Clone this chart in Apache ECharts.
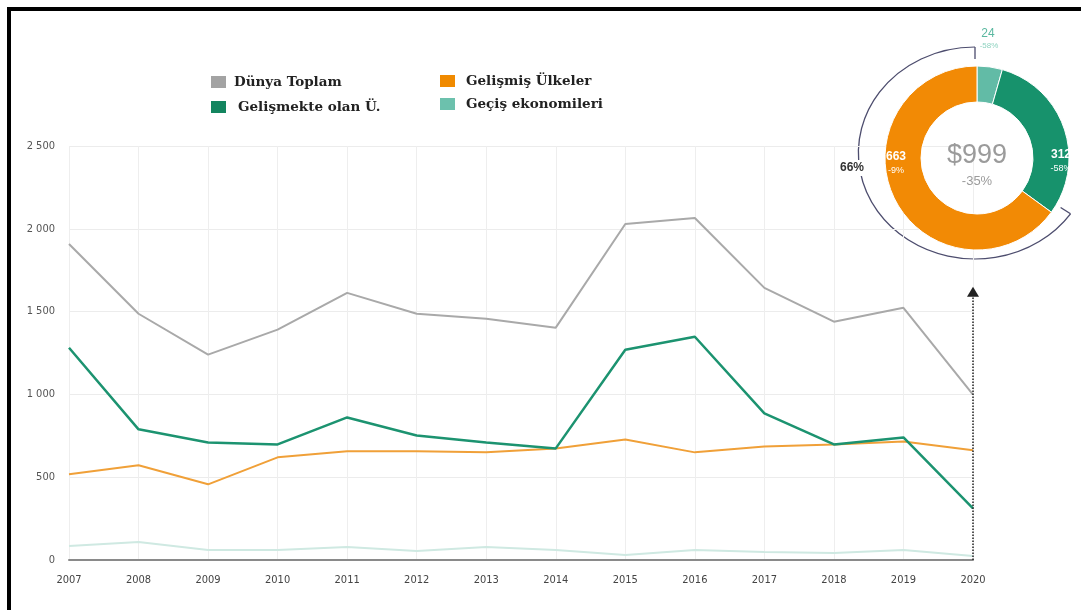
<!DOCTYPE html>
<html>
<head>
<meta charset="utf-8">
<script src="https://cdn.jsdelivr.net/npm/echarts@6/dist/echarts.min.js"></script>
<style>html,body{margin:0;padding:0;background:#fff}#c{width:1081px;height:610px}</style>
</head>
<body>
<div id="c"></div>
<script>
const years = ['2007','2008','2009','2010','2011','2012','2013','2014','2015','2016','2017','2018','2019','2020'];
const dunyaToplam = [1908,1487,1240,1391,1613,1487,1457,1403,2029,2065,1643,1439,1523,999];
const gelismekte = [1282,789,710,698,861,752,710,674,1270,1348,885,698,740,312];
const gelismis = [518,572,457,620,656,656,650,674,728,650,686,698,716,663];
const gecis = [84,108,60,60,78,54,78,60,30,60,48,42,60,24];
const seriesNames = ['Dünya Toplam','Gelişmekte olan Ü.','Gelişmiş Ülkeler','Geçiş ekonomileri'];
const yTicks = [0,500,1000,1500,2000,2500];
// change vs previous year for 2020 donut
const changeTotal = '-35%';
const changeGelismis = '-9%';
const changeGelismekte = '-58%';
const changeGecis = '-58%';
const arrowTopValue = 1620;

const last = years.length - 1;
const total = dunyaToplam[last];
const share = Math.round(gelismis[last] / total * 100) + '%';

const C = {
  gray: '#a9a9a9', green: '#1c9370', orange: '#f0a038', tealLine: '#cfe9e2',
  legGray: '#a3a3a3', legGreen: '#13855f', legOrange: '#f08a00', legTeal: '#6cc1ad',
  dGreen: '#17926c', dOrange: '#f28a05', dTeal: '#62bba6'
};
const fmt = v => v >= 1000 ? String(v).replace(/(\d)(\d{3})$/, '$1 $2') : String(v);
const axFont = "'Liberation Sans Narrow','DejaVu Sans Condensed',sans-serif";

const chart = echarts.init(document.getElementById('c'));
function legendItem(name, color, left, top, pad) {
  return {
    data: [{ name, itemStyle: { color } }],
    left, top, padding: 0, icon: 'rect', itemWidth: 15, itemHeight: 12,
    textStyle: { fontFamily: "'DejaVu Serif',serif", fontWeight: 'bold', fontSize: 13.5, color: '#222', padding: [0,0,0,pad] },
    selectedMode: false
  };
}
const cx = 977, cy = 158;
const arcCx = 975, arcCy = 153, rArc = 106, arcSX = 1.1;
const a0 = 35 * Math.PI / 180, a1 = 270 * Math.PI / 180;
chart.setOption({
  animation: false,
  backgroundColor: '#fff',
  legend: [
    legendItem(seriesNames[0], C.legGray, 211, 75, 3),
    legendItem(seriesNames[1], C.legGreen, 211, 100, 7),
    legendItem(seriesNames[2], C.legOrange, 440, 74, 6),
    legendItem(seriesNames[3], C.legTeal, 440, 97, 6)
  ],
  grid: { left: 69, right: 108, top: 146, bottom: 50 },
  xAxis: {
    type: 'category', data: years, boundaryGap: false,
    axisLine: { lineStyle: { color: '#8a8a8a', width: 2 } },
    axisTick: { show: false },
    axisLabel: { color: '#444', fontSize: 11, fontFamily: axFont, margin: 15 },
    splitLine: { show: true, lineStyle: { color: '#eeeeee' } }
  },
  yAxis: {
    type: 'value', min: yTicks[0], max: yTicks[yTicks.length - 1], interval: 500,
    axisLine: { show: false }, axisTick: { show: false },
    axisLabel: { color: '#555', fontSize: 11, fontFamily: axFont, margin: 14, formatter: fmt },
    splitLine: { lineStyle: { color: '#ececec' } }
  },
  series: [
    { name: seriesNames[0], type: 'line', data: dunyaToplam, symbol: 'none', z: 3,
      lineStyle: { color: C.gray, width: 2 }, itemStyle: { color: C.legGray },
      markLine: { silent: true, symbol: ['none', 'triangle'], symbolSize: [12, 10], label: { show: false },
        lineStyle: { color: '#222', type: 'dotted', width: 1.5 },
        data: [[{ coord: [years[last], 0] }, { coord: [years[last], arrowTopValue] }]] } },
    { name: seriesNames[1], type: 'line', data: gelismekte, symbol: 'none', z: 4,
      lineStyle: { color: C.green, width: 2.5 }, itemStyle: { color: C.legGreen } },
    { name: seriesNames[2], type: 'line', data: gelismis, symbol: 'none', z: 3,
      lineStyle: { color: C.orange, width: 2 }, itemStyle: { color: C.legOrange } },
    { name: seriesNames[3], type: 'line', data: gecis, symbol: 'none', z: 2,
      lineStyle: { color: C.tealLine, width: 2 }, itemStyle: { color: C.legTeal } },
    { name: 'donut', type: 'pie', center: [cx, cy], radius: [56, 92], startAngle: 90, clockwise: true,
      minAngle: 16, label: { show: false }, labelLine: { show: false }, silent: true,
      itemStyle: { borderColor: '#fff', borderWidth: 1 },
      data: [
        { name: seriesNames[3], value: gecis[last], itemStyle: { color: C.dTeal } },
        { name: seriesNames[1], value: gelismekte[last], itemStyle: { color: C.dGreen } },
        { name: seriesNames[2], value: gelismis[last], itemStyle: { color: C.dOrange } }
      ] }
  ],
  graphic: [
    { type: 'rect', shape: { x: 7, y: 7, width: 1074, height: 4 }, style: { fill: '#000' }, z: 100 },
    { type: 'rect', shape: { x: 7, y: 7, width: 4, height: 603 }, style: { fill: '#000' }, z: 100 },
    { type: 'group', x: arcCx, y: arcCy, scaleX: arcSX, z: 50, children: [
      { type: 'arc', shape: { cx: 0, cy: 0, r: rArc, startAngle: a0, endAngle: a1, clockwise: true },
        style: { stroke: '#4d4d6e', lineWidth: 1.2, fill: null, strokeNoScale: true } },
      { type: 'line', shape: { x1: 0, y1: -rArc, x2: 0, y2: -rArc + 12 }, style: { stroke: '#4d4d6e', lineWidth: 1.2, strokeNoScale: true } },
      { type: 'line', shape: { x1: rArc * Math.cos(a0), y1: rArc * Math.sin(a0), x2: (rArc - 11) * Math.cos(a0), y2: (rArc - 11) * Math.sin(a0) }, style: { stroke: '#4d4d6e', lineWidth: 1.2, strokeNoScale: true } }
    ] },
    { type: 'rect', shape: { x: 836, y: 160, width: 32, height: 16 }, style: { fill: '#fff' }, z: 51 },
    { type: 'text', style: { text: share, x: 852, y: 168, align: 'center', verticalAlign: 'middle', fill: '#333', font: "bold 12px 'Liberation Sans Narrow',sans-serif" }, z: 52 },
    { type: 'text', style: { text: '$' + total, x: cx, y: 156, align: 'center', verticalAlign: 'middle', fill: '#9b9b9b', font: "27px 'Liberation Sans',sans-serif" }, z: 52 },
    { type: 'text', style: { text: changeTotal, x: cx, y: 181, align: 'center', verticalAlign: 'middle', fill: '#9b9b9b', font: "13px 'Liberation Sans',sans-serif" }, z: 52 },
    { type: 'text', style: { text: String(gelismis[last]), x: 896, y: 157, align: 'center', verticalAlign: 'middle', fill: '#fff', font: "bold 12px 'Liberation Sans Narrow',sans-serif" }, z: 52 },
    { type: 'text', style: { text: changeGelismis, x: 896, y: 171, align: 'center', verticalAlign: 'middle', fill: '#fff', font: "9px 'Liberation Sans Narrow',sans-serif" }, z: 52 },
    { type: 'text', style: { text: String(gelismekte[last]), x: 1061, y: 155, align: 'center', verticalAlign: 'middle', fill: '#fff', font: "bold 12px 'Liberation Sans Narrow',sans-serif" }, z: 52 },
    { type: 'text', style: { text: changeGelismekte, x: 1061, y: 169, align: 'center', verticalAlign: 'middle', fill: '#fff', font: "9px 'Liberation Sans Narrow',sans-serif" }, z: 52 },
    { type: 'text', style: { text: String(gecis[last]), x: 988, y: 34, align: 'center', verticalAlign: 'middle', fill: '#5ab8a0', font: "12px 'Liberation Sans Narrow',sans-serif" }, z: 52 },
    { type: 'text', style: { text: changeGecis, x: 989, y: 46, align: 'center', verticalAlign: 'middle', fill: '#8fd3c0', font: "8px 'Liberation Sans Narrow',sans-serif" }, z: 52 }
  ]
});
</script>
</body>
</html>
